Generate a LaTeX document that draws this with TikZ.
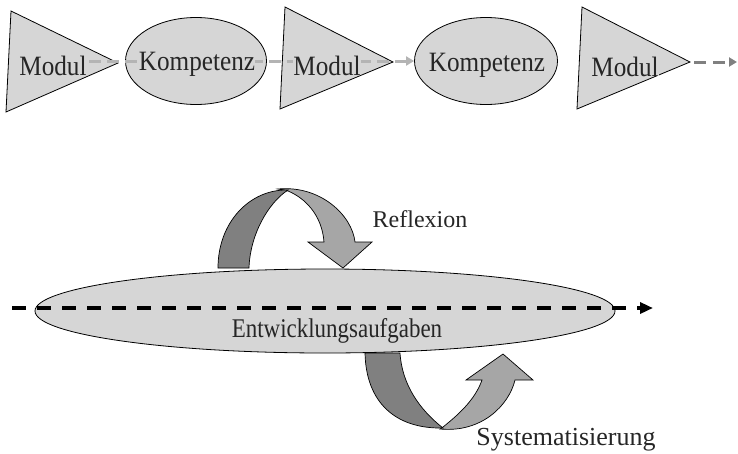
\documentclass[tikz,border=0pt]{standalone}
\usepackage{fontspec}
\setmainfont{Liberation Serif}
\usetikzlibrary{shapes.geometric,arrows.meta}
\definecolor{shapefill}{RGB}{214,214,214}
\definecolor{darkband}{RGB}{128,128,128}
\definecolor{lightband}{RGB}{166,166,166}
\definecolor{flowgray}{RGB}{180,180,180}
\definecolor{endgray}{RGB}{128,128,128}
\pgfdeclarelayer{shapes}
\pgfdeclarelayer{flow}
\pgfsetlayers{shapes,flow,main}
\begin{document}
\begin{tikzpicture}[x=1pt,y=-1pt,
  shapebox/.style={draw=black, line width=0.8pt, fill=shapefill},
  ellbox/.style={shapebox, ellipse, inner sep=0pt},
  toplbl/.style={font=\fontsize{28}{32}\selectfont, inner sep=0pt, fill=shapefill, anchor=base, text=black!85},
  botlbl/.style={font=\fontsize{25}{30}\selectfont, inner sep=0pt, anchor=base, text=black!85},
  flowline/.style={draw=flowgray, line width=3pt, dash pattern=on 12pt off 6pt, -{Triangle[length=8pt,width=9pt]}},
  endflow/.style={draw=endgray, line width=3pt, dash pattern=on 12pt off 7pt, -{Triangle[length=8pt,width=9pt]}},
  mainflow/.style={draw=black, line width=4pt, dash pattern=on 14pt off 11pt, -{Triangle[length=13pt,width=11pt]}},
  darkpart/.style={draw=black, line width=0.7pt, fill=darkband},
  lightpart/.style={draw=black, line width=0.7pt, fill=lightband}]
\useasboundingbox (0,0) rectangle (738,453);

% ---------- top row ----------
\coordinate (t1a) at (11,11);  \coordinate (t1b) at (6,112);   \coordinate (t1tip) at (118,63);
\coordinate (t2a) at (285,7);  \coordinate (t2b) at (280,109); \coordinate (t2tip) at (393,62);
\coordinate (t3a) at (582,7);  \coordinate (t3b) at (577,109); \coordinate (t3tip) at (690,62);
\coordinate (endpt) at (737,62);

\begin{pgfonlayer}{shapes}
  \draw[shapebox] (t1a) -- (t1tip) -- (t1b) -- cycle;
  \draw[shapebox] (t2a) -- (t2tip) -- (t2b) -- cycle;
  \draw[shapebox] (t3a) -- (t3tip) -- (t3b) -- cycle;
  \node[ellbox, minimum width=141pt, minimum height=87pt] (k1) at (196,61) {};
  \node[ellbox, minimum width=143pt, minimum height=87pt] (k2) at (486,61) {};
\end{pgfonlayer}

\node[toplbl] (m1) at (53,75) {\scalebox{0.9}[1]{Modul}};
\node[toplbl] (c1) at (197,70) {\scalebox{0.9}[1]{Kompetenz}};
\node[toplbl] (m2) at (327,75) {\scalebox{0.9}[1]{Modul}};
\node[toplbl] (c2) at (487,71) {\scalebox{0.9}[1]{Kompetenz}};
\node[toplbl] (m3) at (625,76) {\scalebox{0.9}[1]{Modul}};

\begin{pgfonlayer}{flow}
  \draw[flowline] (m1.center |- k2.west) -- (k2.west);
  \draw[endflow, shorten <=4pt] (t3tip) -- (endpt);
\end{pgfonlayer}

% ---------- bottom part ----------
\node[ellbox, minimum width=580pt, minimum height=84pt] (ea) at (325,311) {};
\coordinate (dl) at (12,308);
\coordinate (dr) at (653,308);
\draw[mainflow] (dl) -- (dr);
\node[botlbl, font=\fontsize{27}{32}\selectfont] (ent) at (337,337) {\scalebox{0.85}[1]{Entwicklungsaufgaben}};

% Reflexion arrow
\draw[lightpart] (278,189) .. controls (320,185) and (352,215) .. (355,242)
  -- (372,242) -- (343,268) -- (308,242) -- (324,242)
  .. controls (322,215) and (305,198) .. (288,191) -- cycle;
\draw[darkpart] (218,268) .. controls (218,222) and (250,189) .. (288,190)
  .. controls (268,203) and (250,235) .. (249,268) -- cycle;
\node[botlbl, font=\fontsize{24}{28}\selectfont] (refl) at (420,227) {Reflexion};

% Systematisierung arrow
\draw[lightpart] (440,429) .. controls (482,433) and (509,405) .. (515,380)
  -- (533,380) -- (503,354) -- (466,380) -- (482,380)
  .. controls (475,400) and (458,415) .. (443,427) -- cycle;
\draw[darkpart] (365,353) .. controls (366,402) and (395,429) .. (443,428)
  .. controls (420,410) and (402,385) .. (400,353) -- cycle;
\node[botlbl, font=\fontsize{26}{30}\selectfont] (sys) at (566,445) {Systematisierung};
\end{tikzpicture}
\end{document}
